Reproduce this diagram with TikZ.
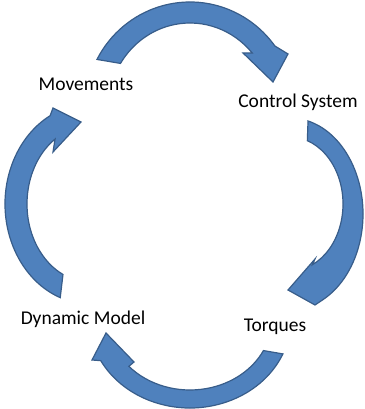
\documentclass[tikz,border=0pt]{standalone}
\usepackage{fontspec}
\setmainfont{Carlito}
\definecolor{arrowfill}{HTML}{4F81BD}
\definecolor{arrowline}{HTML}{385D8A}
\begin{document}
\begin{tikzpicture}[x=1pt,y=1pt,
  cyclearrow/.style={fill=arrowfill,draw=arrowline,line width=1.2pt,line join=miter},
  lbl/.style={font=\fontsize{19.5}{22}\selectfont,inner sep=0pt,text=black}]
\useasboundingbox (0,0) rectangle (364,409);

% labels
\node[lbl] (mov) at (86,325) {Movements};
\node[lbl] (ctl) at (298,307) {Control System};
\node[lbl] (tor) at (275,82) {Torques};
\node[lbl] (dyn) at (83,90) {Dynamic Model};

% top arrow: Movements -> Control System
\path[cyclearrow]
  ([shift={(190,300)}]152.4:105 and 107)
  arc[start angle=152.4, end angle=36.1, x radius=105, y radius=107]
  -- (288,355) -- (273,327) -- (243,356)
  -- ([shift={(190,300)}]40.7:82 and 86)
  arc[start angle=40.7, end angle=148, x radius=82, y radius=86]
  -- cycle;

% right arrow: Control System -> Torques
\path[cyclearrow]
  ([shift={(290,195)}]75.7:73 and 96)
  arc[start angle=75.7, end angle=-63.2, x radius=73, y radius=96]
  -- (315,104) -- (288,119) -- (315,150)
  -- ([shift={(290,205)}]-64.9:53 and 67)
  arc[start angle=-64.9, end angle=70.9, x radius=53, y radius=67]
  -- cycle;

% bottom arrow: Torques -> Dynamic Model
\path[cyclearrow]
  ([shift={(190,90)}]-23.1:101 and 89)
  arc[start angle=-23.1, end angle=-152.1, x radius=101, y radius=89]
  -- (92,49) -- (106,76) -- (134,47)
  -- ([shift={(190,90)}]-138.2:82 and 71)
  arc[start angle=-138.2, end angle=-26.4, x radius=82, y radius=71]
  -- cycle;

% left arrow: Dynamic Model -> Movements
\path[cyclearrow]
  ([shift={(90,205)}]249.5:85 and 100)
  arc[start angle=249.5, end angle=118, x radius=85, y radius=100]
  -- (53,301) -- (81,287) -- (53,257)
  -- ([shift={(90,205)}]123.7:63 and 78)
  arc[start angle=123.7, end angle=244.6, x radius=63, y radius=78]
  -- cycle;
\end{tikzpicture}
\end{document}
